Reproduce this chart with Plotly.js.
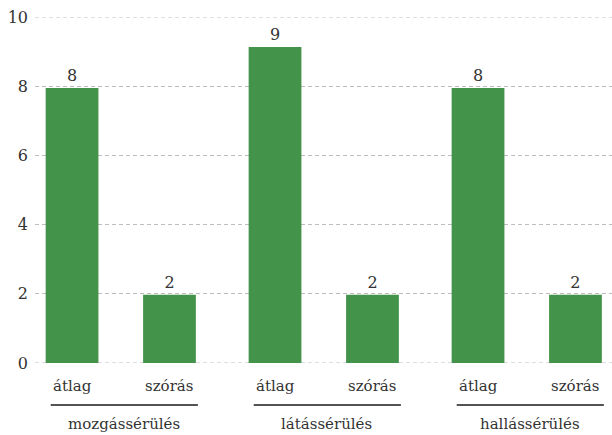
<!DOCTYPE html>
<html>
<head>
<meta charset="utf-8">
<script src="https://cdn.plot.ly/plotly-3.0.1.min.js"></script>
<style>html,body{margin:0;padding:0;background:#fff;}#chart{width:612px;height:435px;}</style>
</head>
<body>
<div id="chart"></div>
<script>
const groups = ["mozgássérülés", "látássérülés", "hallássérülés"];
const measures = ["átlag", "szórás"];
const values = [7.95, 1.97, 9.13, 1.97, 7.95, 1.97];
const valueLabels = ["8", "2", "9", "2", "8", "2"];
const yTicks = [0, 2, 4, 6, 8, 10];

const FONT = "DejaVu Serif";
const TXT = "#333333";
const GRID = "#bdbdbd";
const DASH = "4px,3px";
const groupStep = 2.0, inOffset = 0.48;

const xs = [], subText = [];
groups.forEach((g, gi) => {
  measures.forEach((m, mi) => {
    xs.push(gi * groupStep + (mi === 0 ? -inOffset : inOffset));
    subText.push(m);
  });
});

const annotations = [];
groups.forEach((g, gi) => {
  const c = gi * groupStep;
  annotations.push({x: c + 0.03, y: 0, xref: "x", yref: "paper", text: g, showarrow: false,
    yanchor: "middle", yshift: -61, font: {family: FONT, size: 15, color: TXT}});
});
xs.forEach((x, i) => {
  annotations.push({x: x, y: 0, xref: "x", yref: "paper", text: subText[i], showarrow: false,
    yanchor: "middle", yshift: -23, font: {family: FONT, size: 15, color: TXT}});
});

const shapes = groups.map((g, gi) => {
  const c = gi * groupStep;
  return {type: "line", xref: "x", yref: "paper", ysizemode: "pixel", yanchor: 0,
    x0: c - 0.69, x1: c + 0.76, y0: -42, y1: -42, line: {color: "#1a1a1a", width: 1.5}};
});
// edge gridlines (Plotly omits gridlines at the exact range ends)
[yTicks[0], yTicks[yTicks.length - 1]].forEach(v => {
  shapes.push({type: "line", xref: "paper", yref: "y", x0: 0, x1: 1, y0: v, y1: v,
    layer: "below", line: {color: GRID, width: 1, dash: DASH}});
});

const trace = {
  type: "bar", x: xs, y: values, width: 0.52,
  marker: {color: "#43944a"},
  text: valueLabels, textposition: "outside", cliponaxis: false,
  textfont: {family: FONT, size: 16, color: TXT},
  hoverinfo: "none"
};

const layout = {
  width: 612, height: 435,
  margin: {l: 35, r: 0, t: 17, b: 72, pad: 0},
  paper_bgcolor: "#fff", plot_bgcolor: "#fff",
  showlegend: false,
  xaxis: {range: [-0.845, 4.84], showticklabels: false, showgrid: false, zeroline: false,
    showline: false, ticks: "", fixedrange: true},
  yaxis: {range: [0, 10], tickvals: yTicks, showgrid: true, gridcolor: GRID,
    griddash: DASH, gridwidth: 1, zeroline: false, showline: false, ticks: "",
    ticklabelstandoff: 6,
    tickfont: {family: FONT, size: 16, color: TXT}},
  shapes: shapes,
  annotations: annotations,
  font: {family: FONT, color: TXT, size: 15}
};

Plotly.newPlot("chart", [trace], layout, {staticPlot: true});
</script>
</body>
</html>
